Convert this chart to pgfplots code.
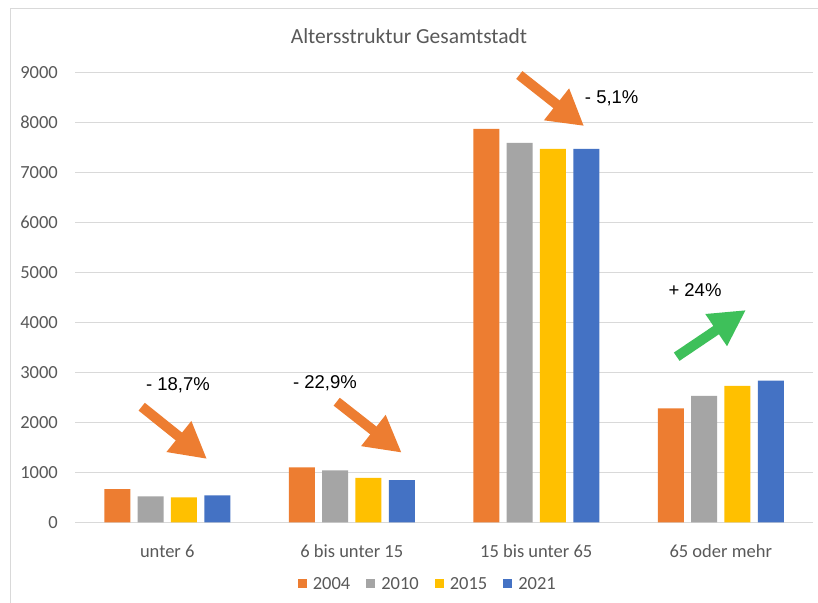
\documentclass[border=0pt]{standalone}
\usepackage{pgfplots}
\pgfplotsset{compat=1.18}
\usetikzlibrary{arrows.meta}
\usepackage{fontspec}
\setmainfont{Carlito}
\newfontfamily\arialf{Liberation Sans}
\definecolor{cOr}{HTML}{ED7D31}
\definecolor{cGr}{HTML}{A5A5A5}
\definecolor{cYe}{HTML}{FFC000}
\definecolor{cBl}{HTML}{4472C4}
\definecolor{cGreen}{HTML}{3EC05A}
\definecolor{cTxt}{HTML}{595959}
\definecolor{cGrid}{HTML}{D9D9D9}
\begin{document}
\begin{tikzpicture}
\useasboundingbox (0pt,0pt) rectangle (818pt,602pt);
\fill[white] (0pt,0pt) rectangle (818pt,602pt);
\draw[cGrid, line width=1pt] (10pt,593pt) -- (840pt,593pt);
\draw[cGrid, line width=1pt] (10pt,593pt) -- (10pt,-20pt);
\begin{axis}[
  at={(75pt,79.7pt)}, anchor=south west,
  scale only axis, width=738pt, height=450pt,
  xmin=-0.5, xmax=3.5, ymin=0, ymax=9000,
  ybar, bar width=26pt,
  axis line style={draw=none},
  tick style={draw=none},
  ymajorgrids, grid style={cGrid, line width=1.2pt},
  ytick={0,1000,...,9000},
  xtick={0,1,2,3},
  xticklabels={unter 6, 6 bis unter 15, 15 bis unter 65, 65 oder mehr},
  /pgf/number format/assume math mode=true,
  /pgf/number format/set thousands separator={},
  yticklabel style={font=\fontsize{18.5}{20}\selectfont, text=cTxt, anchor=east, inner sep=0pt, xshift=-17pt},
  xticklabel style={font=\fontsize{18.5}{20}\selectfont, text=cTxt, anchor=base, inner sep=0pt, yshift=-30.7pt},
  legend columns=4,
  legend style={draw=none, fill=none, at={(0.478,-0.137)}, anchor=center,
    font=\fontsize{18.5}{20}\selectfont, text=cTxt,
    /tikz/every odd column/.append style={column sep=4pt},
    /tikz/every even column/.append style={column sep=14pt}},
  legend image code/.code={\fill[#1] (0pt,-4.5pt) rectangle (9pt,4.5pt);},
]
\addplot[fill=cOr, draw=none, bar shift=-50pt] coordinates {(0,665) (1,1100) (2,7866) (3,2280)};
\addplot[fill=cGr, draw=none, bar shift=-16.7pt] coordinates {(0,520) (1,1040) (2,7586) (3,2526)};
\addplot[fill=cYe, draw=none, bar shift=16.7pt] coordinates {(0,500) (1,890) (2,7466) (3,2726)};
\addplot[fill=cBl, draw=none, bar shift=50pt] coordinates {(0,540) (1,846) (2,7466) (3,2832)};
\legend{2004,2010,2015,2021}
\end{axis}
\begin{scope}[x=1pt,y=1pt]
\node[anchor=base, text=cTxt, font=\fontsize{21.5}{24}\selectfont] at (409,558.7) {Altersstruktur Gesamtstadt};
\draw[cOr, line width=10pt, -{Triangle[length=36pt,width=37pt]}] (141.7,195.3) -- (207,143);
\draw[cOr, line width=10pt, -{Triangle[length=36pt,width=37pt]}] (336.7,200.3) -- (401.7,149.3);
\draw[cOr, line width=10pt, -{Triangle[length=35pt,width=38pt]}] (519.3,527) -- (584,476);
\draw[cGreen, line width=10pt, -{Triangle[length=36pt,width=36pt]}] (676.7,245.3) -- (746,292);
\node[font=\arialf\fontsize{18.5}{20}\selectfont] at (178,217) {- 18,7\%};
\node[font=\arialf\fontsize{18.5}{20}\selectfont] at (325,219) {- 22,9\%};
\node[font=\arialf\fontsize{18.5}{20}\selectfont] at (611.7,504) {- 5,1\%};
\node[font=\arialf\fontsize{18.5}{20}\selectfont] at (695,312) {+ 24\%};
\end{scope}
\end{tikzpicture}
\end{document}
